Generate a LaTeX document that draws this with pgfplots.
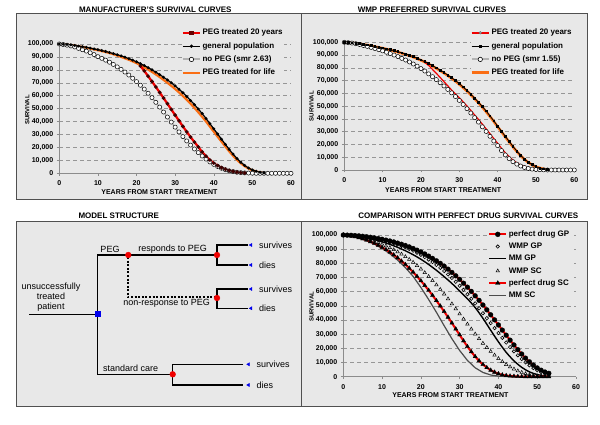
\documentclass[border=0pt]{standalone}
\usepackage{fontspec}
\setmainfont{Liberation Sans}
\usepackage{pgfplots}
\usepackage{pgfplotstable}
\pgfplotsset{compat=1.18}
\definecolor{boxbg}{RGB}{232,232,232}
\definecolor{boxline}{RGB}{80,80,80}
\definecolor{gridc}{RGB}{150,150,150}
\definecolor{axgrey}{RGB}{140,140,140}
\definecolor{xlorange}{RGB}{250,110,20}
\definecolor{xlred}{RGB}{240,0,0}
\definecolor{dblue}{RGB}{0,0,235}

% ---------- data: general population (panels 1 and 2) ----------
\pgfplotstableread{
t v
0 100000
1 99800
2 99600
3 99300
4 98900
5 98400
6 97900
7 97400
8 96800
9 96200
10 95600
11 94900
12 94200
13 93400
14 92600
15 91700
16 90800
17 89800
18 88700
19 87500
20 86200
21 84800
22 83300
23 81700
24 80000
25 78200
26 76300
27 74300
28 72200
29 70000
30 67600
31 65000
32 62300
33 59400
34 56300
35 53100
36 49700
37 46200
38 42400
39 38400
40 34400
41 30400
42 26400
43 22400
44 18500
45 14800
46 11500
47 8600
48 6100
49 4100
50 2600
51 1500
52 800
53 300
}\genpop

% ---------- panel 1 ----------
\pgfplotstableread{
t v
0 100000
1 99600
2 99100
3 98500
4 97700
5 96600
6 95600
7 94500
8 93200
9 91800
10 90200
11 88900
12 87500
13 85900
14 84200
15 82300
16 80400
17 78300
18 76000
19 73500
20 70900
21 68100
22 65100
23 61900
24 58500
25 54900
26 51200
27 47400
28 43500
29 39600
30 35700
31 32000
32 28400
33 25000
34 21800
35 18800
36 16000
37 13400
38 11000
39 8800
40 6900
41 5300
42 3900
43 2800
44 1900
45 1300
46 800
47 500
48 300
49 200
50 100
51 0
52 0
53 0
54 0
55 0
56 0
57 0
58 0
59 0
60 0
}\pAnopeg

\pgfplotstableread{
t v
21 83000
22 79200
23 75100
24 71000
25 66800
26 62500
27 58200
28 53800
29 49400
30 45000
31 40600
32 36300
33 32100
34 28000
35 24100
36 20400
37 16500
38 13200
39 10300
40 7900
41 5900
42 4300
43 3100
44 2100
45 1400
46 900
47 500
48 300
}\pAred

\pgfplotstableread{
t v
0 100000
2 99500
4 98700
6 97700
8 96500
10 95200
12 93800
14 92100
16 90000
18 87800
20 85200
22 82000
24 78400
26 74400
28 70000
30 65200
32 59800
34 53800
36 47200
38 40000
40 32200
42 24500
44 17000
46 10400
48 5500
50 2300
52 700
53 300
}\pAlife

% ---------- panel 2 ----------
\pgfplotstableread{
t v
0 100000
1 99700
2 99400
3 98900
4 98300
5 97500
6 96800
7 96000
8 95100
9 94200
10 93300
11 92200
12 91200
13 90000
14 88800
15 87400
16 86100
17 84600
18 83000
19 81300
20 79400
21 77500
22 75300
23 73100
24 70800
25 68300
26 65800
27 63100
28 60400
29 57500
30 54500
31 51300
32 48000
33 44600
34 41000
35 37500
36 33800
37 30200
38 26400
39 22700
40 19100
41 15200
42 11800
43 8900
44 6500
45 4600
46 3100
47 2000
48 1200
49 700
50 400
51 200
52 100
53 0
54 0
55 0
56 0
57 0
58 0
59 0
60 0
}\pBnopeg

\pgfplotstableread{
t v
21 84500
22 81800
23 78800
24 75700
25 72500
26 69200
27 65900
28 62600
29 59600
30 56600
31 53400
32 50100
33 46700
34 43100
35 39600
36 35900
37 32200
38 28400
39 24600
40 20900
41 17000
42 13500
43 10400
44 7800
45 5600
46 3900
47 2600
48 1600
49 900
50 500
51 200
}\pBred

\pgfplotstableread{
t v
0 100000
2 99550
4 98800
6 97800
8 96600
10 95400
12 93900
14 92300
16 90500
18 88400
20 85900
22 83000
24 79600
26 75900
28 71800
30 67100
32 61800
34 55800
36 49200
38 41900
40 33900
42 25900
44 18100
46 11200
48 5900
50 2500
52 800
53 300
}\pBlife

% ---------- panel 4 ----------
\pgfplotstableread{
t v
0 100000
1 99900
2 99800
3 99600
4 99400
5 99100
6 98800
7 98400
8 98000
9 97500
10 97000
11 96400
12 95800
13 95100
14 94300
15 93500
16 92600
17 91600
18 90500
19 89300
20 88000
21 86600
22 85100
23 83500
24 81800
25 80000
26 78000
27 75900
28 73600
29 71200
30 68700
31 66000
32 63200
33 60200
34 57100
35 53900
36 50600
37 47200
38 43700
39 40100
40 36500
41 32900
42 29300
43 25800
44 22400
45 19100
46 16000
47 13100
48 10500
49 8200
50 6200
51 4600
52 3300
53 2400
}\pgp

\pgfplotstableread{
t v
0 100000
1 99900
2 99700
3 99500
4 99200
5 98900
6 98500
7 98100
8 97600
9 97000
10 96400
11 95700
12 95000
13 94200
14 93300
15 92300
16 91300
17 90100
18 88900
19 87500
20 86000
21 84400
22 82700
23 80900
24 78900
25 76800
26 74600
27 72200
28 69700
29 67000
30 64200
31 61300
32 58200
33 55000
34 51700
35 48300
36 44800
37 41300
38 37800
39 34300
40 30800
41 27400
42 24100
43 20900
44 17900
45 15100
46 12500
47 10100
48 8000
49 6100
50 4500
51 3200
52 2100
53 1300
}\wgp

\pgfplotstableread{
t v
0 100000
2 99600
4 98900
6 97900
8 96700
10 95200
12 93400
14 91300
16 88900
18 86100
20 82900
22 79200
24 75100
26 70600
28 65800
30 60500
32 55000
34 48800
36 41200
38 32800
40 24600
42 17200
44 11200
46 6600
48 3400
50 1500
52 500
53 200
}\mgp

\pgfplotstableread{
t v
0 100000
1 99800
2 99500
3 99100
4 98600
5 98000
6 97300
7 96500
8 95600
9 94600
10 93500
11 92300
12 91000
13 89600
14 88100
15 86500
16 84700
17 82800
18 80700
19 78400
20 76000
21 73400
22 70700
23 67800
24 64800
25 61600
26 58300
27 54900
28 51400
29 47900
30 44300
31 40700
32 37100
33 33600
34 30100
35 26800
36 23600
37 20600
38 17800
39 15200
40 12800
41 10600
42 8600
43 6900
44 5400
45 4100
46 3000
47 2100
48 1400
49 900
50 500
51 300
52 100
53 50
}\wsc

\pgfplotstableread{
t v
0 100000
1 99700
2 99300
3 98800
4 98100
5 97300
6 96400
7 95300
8 94100
9 92800
10 91300
11 89700
12 87900
13 86000
14 83900
15 81600
16 79200
17 76600
18 73800
19 70800
20 67700
21 64400
22 61000
23 57400
24 53700
25 49900
26 46000
27 42000
28 37900
29 33700
30 29500
31 25300
32 21300
33 17600
34 14200
35 11200
36 8600
37 6400
38 4600
39 3200
40 2100
41 1300
42 800
43 500
44 300
45 150
46 50
47 0
48 0
49 0
50 0
51 0
52 0
53 0
}\psc

\pgfplotstableread{
t v
0 100000
2 99200
4 97900
6 96000
8 93600
10 90500
12 86800
14 82300
16 77000
18 70800
20 63000
22 54500
24 45500
26 36000
28 26800
30 18500
32 11500
34 6300
36 3000
38 1200
40 400
42 100
44 0
53 0
}\msc

\pgfplotsset{
  surv/.style={
    scale only axis, anchor=south west, clip=false,
    xmin=0, xmax=60, ymin=0, ymax=100000,
    xtick={0,10,...,60}, ytick={0,10000,...,100000},
    axis lines=left, axis line style={draw=axgrey, line width=0.6pt, -},
    ymajorgrids, grid style={draw=gridc, line width=0.5pt, dash pattern=on 4pt off 3pt},
    tick style={draw=axgrey, line width=0.5pt}, tick align=outside, major tick length=2.5pt,
    ticklabel style={font=\bfseries\fontsize{7}{8}\selectfont},
    xticklabel style={yshift=-1.5pt},
    scaled y ticks=false,
    /pgf/number format/fixed,
    /pgf/number format/1000 sep={,},
    /pgf/number format/assume math mode=true,
    xlabel={YEARS FROM START TREATMENT},
    ylabel={SURVIVAL},
    xlabel style={font=\bfseries\fontsize{7}{8}\selectfont, anchor=center},
    ylabel style={font=\bfseries\fontsize{6}{7}\selectfont, anchor=center},
    legend style={draw=none, fill=boxbg, font=\bfseries\fontsize{8}{9}\selectfont,
      inner sep=0pt, anchor=north west,
      nodes={text height=6pt, text depth=1.8pt, inner ysep=2.75pt, inner xsep=1.5pt}},
    legend cell align=left,
  }
}

\begin{document}
\begin{tikzpicture}
\useasboundingbox (0pt,0pt) rectangle (600pt,425pt);
\fill[white] (0pt,0pt) rectangle (600pt,425pt);
\filldraw[fill=boxbg, draw=boxline, line width=1pt] (16pt,225pt) rectangle (301pt,411pt);
\filldraw[fill=boxbg, draw=boxline, line width=1pt] (301pt,225pt) rectangle (587pt,411pt);
\filldraw[fill=boxbg, draw=boxline, line width=1pt] (16pt,18pt) rectangle (301pt,203pt);
\filldraw[fill=boxbg, draw=boxline, line width=1pt] (301pt,18pt) rectangle (587pt,203pt);

\node[font=\bfseries\fontsize{8}{9}\selectfont] at (155.3pt,415pt) {MANUFACTURER'S SURVIVAL CURVES};
\node[font=\bfseries\fontsize{8}{9}\selectfont] at (432pt,415pt) {WMP PREFERRED SURVIVAL CURVES};
\node[font=\bfseries\fontsize{8}{9}\selectfont] at (118.8pt,209pt) {MODEL STRUCTURE};
\node[font=\bfseries\fontsize{8}{9}\selectfont] at (468.3pt,209pt) {COMPARISON WITH PERFECT DRUG SURVIVAL CURVES};

% ---------- panel 1 ----------
\begin{axis}[surv, at={(59.3pt,251.7pt)}, width=231.7pt, height=129.3pt,
  xlabel style={at={(axis description cs:0.432,-0.142)}},
  ylabel style={at={(axis description cs:-0.138,0.49)}},
  legend style={at={(axis description cs:0.528,1.139)}}]
\addlegendimage{xlred, line width=2.2pt, mark=square*, mark size=1.1pt, mark options={fill=black!60!red, draw=black!60!red}}
\addlegendentry{PEG treated 20 years}
\addlegendimage{black, line width=1.2pt, mark=*, mark size=1pt}
\addlegendentry{general population}
\addlegendimage{gray!60, line width=2pt, mark=*, mark size=2.2pt, mark options={draw=black, fill=white, line width=0.6pt}}
\addlegendentry{no PEG (smr 2.63)}
\addlegendimage{xlorange, line width=2.2pt}
\addlegendentry{PEG treated for life}
\addplot[xlorange, line width=2.2pt, smooth, forget plot] table[x=t,y=v]{\pAlife};
\addplot[gray!60, line width=1.5pt, mark=*, mark size=2.1pt, mark options={draw=black, fill=white, line width=0.5pt}, forget plot] table[x=t,y=v]{\pAnopeg};
\addplot[xlred, line width=2.2pt, mark=*, mark size=0.5pt, mark options={fill=black!75!red, draw=black!75!red}, forget plot] table[x=t,y=v]{\pAred};
\addplot[black, line width=1.2pt, mark=*, mark size=0.8pt, forget plot] table[x=t,y=v]{\genpop};
\end{axis}

% ---------- panel 2 ----------
\begin{axis}[surv, at={(344.3pt,255pt)}, width=230pt, height=127.7pt,
  xlabel style={at={(axis description cs:0.430,-0.157)}},
  ylabel style={at={(axis description cs:-0.142,0.50)}},
  legend style={at={(axis description cs:0.548,1.128)}}]
\addlegendimage{xlred, line width=2pt, mark=*, mark size=1.3pt, mark options={fill=gray!60, draw=black!60, line width=0.4pt}}
\addlegendentry{PEG treated 20 years}
\addlegendimage{black, line width=1pt, mark=square*, mark size=1pt}
\addlegendentry{general population}
\addlegendimage{gray!60, line width=2pt, mark=*, mark size=2.2pt, mark options={draw=black, fill=white, line width=0.6pt}}
\addlegendentry{no PEG (smr 1.55)}
\addlegendimage{xlorange, line width=2.4pt}
\addlegendentry{PEG treated for life}
\addplot[xlorange, line width=2.6pt, smooth, forget plot] table[x=t,y=v]{\pBlife};
\addplot[xlred, line width=1.2pt, forget plot] table[x=t,y=v]{\pBred};
\addplot[gray!60, line width=1.5pt, mark=*, mark size=2.1pt, mark options={draw=black, fill=white, line width=0.5pt}, forget plot] table[x=t,y=v]{\pBnopeg};
\addplot[black, line width=0.8pt, mark=square*, mark size=0.9pt, forget plot] table[x=t,y=v]{\genpop};
\end{axis}

% ---------- panel 3: model structure ----------
\begin{axis}[at={(16pt,18pt)}, anchor=south west, scale only axis, width=285pt, height=185pt,
  xmin=16, xmax=301, ymin=222, ymax=407, y dir=reverse, hide axis, clip=false]
\addplot[black, line width=1.4pt] coordinates {(29.3,314.3) (97.7,314.3)};
\addplot[black, line width=1.4pt, line join=miter] coordinates {(128.3,255) (97.7,255) (97.7,374.3) (172.7,374.3)};
\addplot[black, line width=1.4pt] coordinates {(128.3,255) (217,255)};
\addplot[black, line width=1.4pt, line join=miter] coordinates {(248.3,245) (217,245) (217,265) (248.3,265)};
\addplot[black, line width=2pt, dash pattern=on 2pt off 1.6pt] coordinates {(128.3,257) (128.3,297.5) (217,297.5)};
\addplot[black, line width=1.4pt, line join=miter] coordinates {(248.3,289) (217,289) (217,308.3) (248.3,308.3)};
\addplot[black, line width=1.4pt, line join=miter] coordinates {(243.3,364.3) (172.7,364.3) (172.7,385) (243.3,385)};
\addplot[only marks, mark=*, mark size=2.9pt, draw=xlred, fill=xlred] coordinates {(128.3,255) (217,255) (217,298) (172.7,374.3)};
\addplot[only marks, mark=square*, mark size=2.5pt, draw=dblue, fill=dblue] coordinates {(97.7,313.7)};
\addplot[only marks, mark=triangle*, mark size=1.8pt, mark options={rotate=90}, draw=dblue, fill=dblue] coordinates {(251,245) (251,265) (251,289) (251,308.3) (248.5,364.3) (248.5,385)};
\node[font=\fontsize{9}{10}\selectfont] at (axis cs:110,249) {PEG};
\node[font=\fontsize{9}{10}\selectfont] at (axis cs:172.7,249) {responds to PEG};
\node[font=\fontsize{9}{10}\selectfont] at (axis cs:166.7,303.5) {non-response to PEG};
\node[font=\fontsize{9}{10}\selectfont] at (axis cs:130.7,368.3) {standard care};
\node[font=\fontsize{9}{10}\selectfont, align=center] at (axis cs:51,297.3) {unsuccessfully\\treated\\patient};
\node[font=\fontsize{9}{10}\selectfont, anchor=west] at (axis cs:255.5,245) {survives};
\node[font=\fontsize{9}{10}\selectfont, anchor=west] at (axis cs:255.5,265) {dies};
\node[font=\fontsize{9}{10}\selectfont, anchor=west] at (axis cs:255.5,289) {survives};
\node[font=\fontsize{9}{10}\selectfont, anchor=west] at (axis cs:255.5,308.3) {dies};
\node[font=\fontsize{9}{10}\selectfont, anchor=west] at (axis cs:253,364.3) {survives};
\node[font=\fontsize{9}{10}\selectfont, anchor=west] at (axis cs:253,385) {dies};
\end{axis}

% ---------- panel 4 ----------
\begin{axis}[surv, at={(343.3pt,48.3pt)}, width=232.7pt, height=141.7pt,
  xlabel style={at={(axis description cs:0.46,-0.129)}},
  ylabel style={at={(axis description cs:-0.136,0.494)}},
  legend style={at={(axis description cs:0.622,1.049)},
    nodes={text height=6pt, text depth=1.8pt, inner ysep=2.2pt, inner xsep=1.5pt}}]
\addlegendimage{xlred, line width=2pt, mark=*, mark size=2.5pt, mark options={draw=black, fill=black, line width=0.3pt}}
\addlegendentry{perfect drug GP}
\addlegendimage{only marks, mark=o, mark size=1.7pt, draw=black, mark options={line width=0.6pt}}
\addlegendentry{WMP GP}
\addlegendimage{black, line width=1.4pt}
\addlegendentry{MM GP}
\addlegendimage{only marks, mark=triangle, mark size=2pt, draw=black, mark options={line width=0.5pt}}
\addlegendentry{WMP SC}
\addlegendimage{xlred, line width=2pt, mark=triangle*, mark size=2.6pt, mark options={draw=black, fill=black, line width=0.3pt}}
\addlegendentry{perfect drug SC}
\addlegendimage{gray!60!black, line width=1.2pt}
\addlegendentry{MM SC}
\addplot[gray!60!black, line width=1.2pt, forget plot] table[x=t,y=v]{\msc};
\addplot[black, line width=1.4pt, smooth, forget plot] table[x=t,y=v]{\mgp};
\addplot[only marks, mark=triangle, mark size=2pt, draw=black, mark options={line width=0.5pt}, forget plot] table[x=t,y=v]{\wsc};
\addplot[only marks, mark=o, mark size=1.7pt, draw=black, mark options={line width=0.6pt}, forget plot] table[x=t,y=v]{\wgp};
\addplot[xlred, line width=2pt, mark=triangle*, mark size=2.4pt, mark options={draw=black, fill=black, line width=0.3pt}, forget plot] table[x=t,y=v]{\psc};
\addplot[xlred, line width=2pt, mark=*, mark size=2.4pt, mark options={draw=black, fill=black, line width=0.3pt}, forget plot] table[x=t,y=v]{\pgp};
\end{axis}
\end{tikzpicture}
\end{document}
